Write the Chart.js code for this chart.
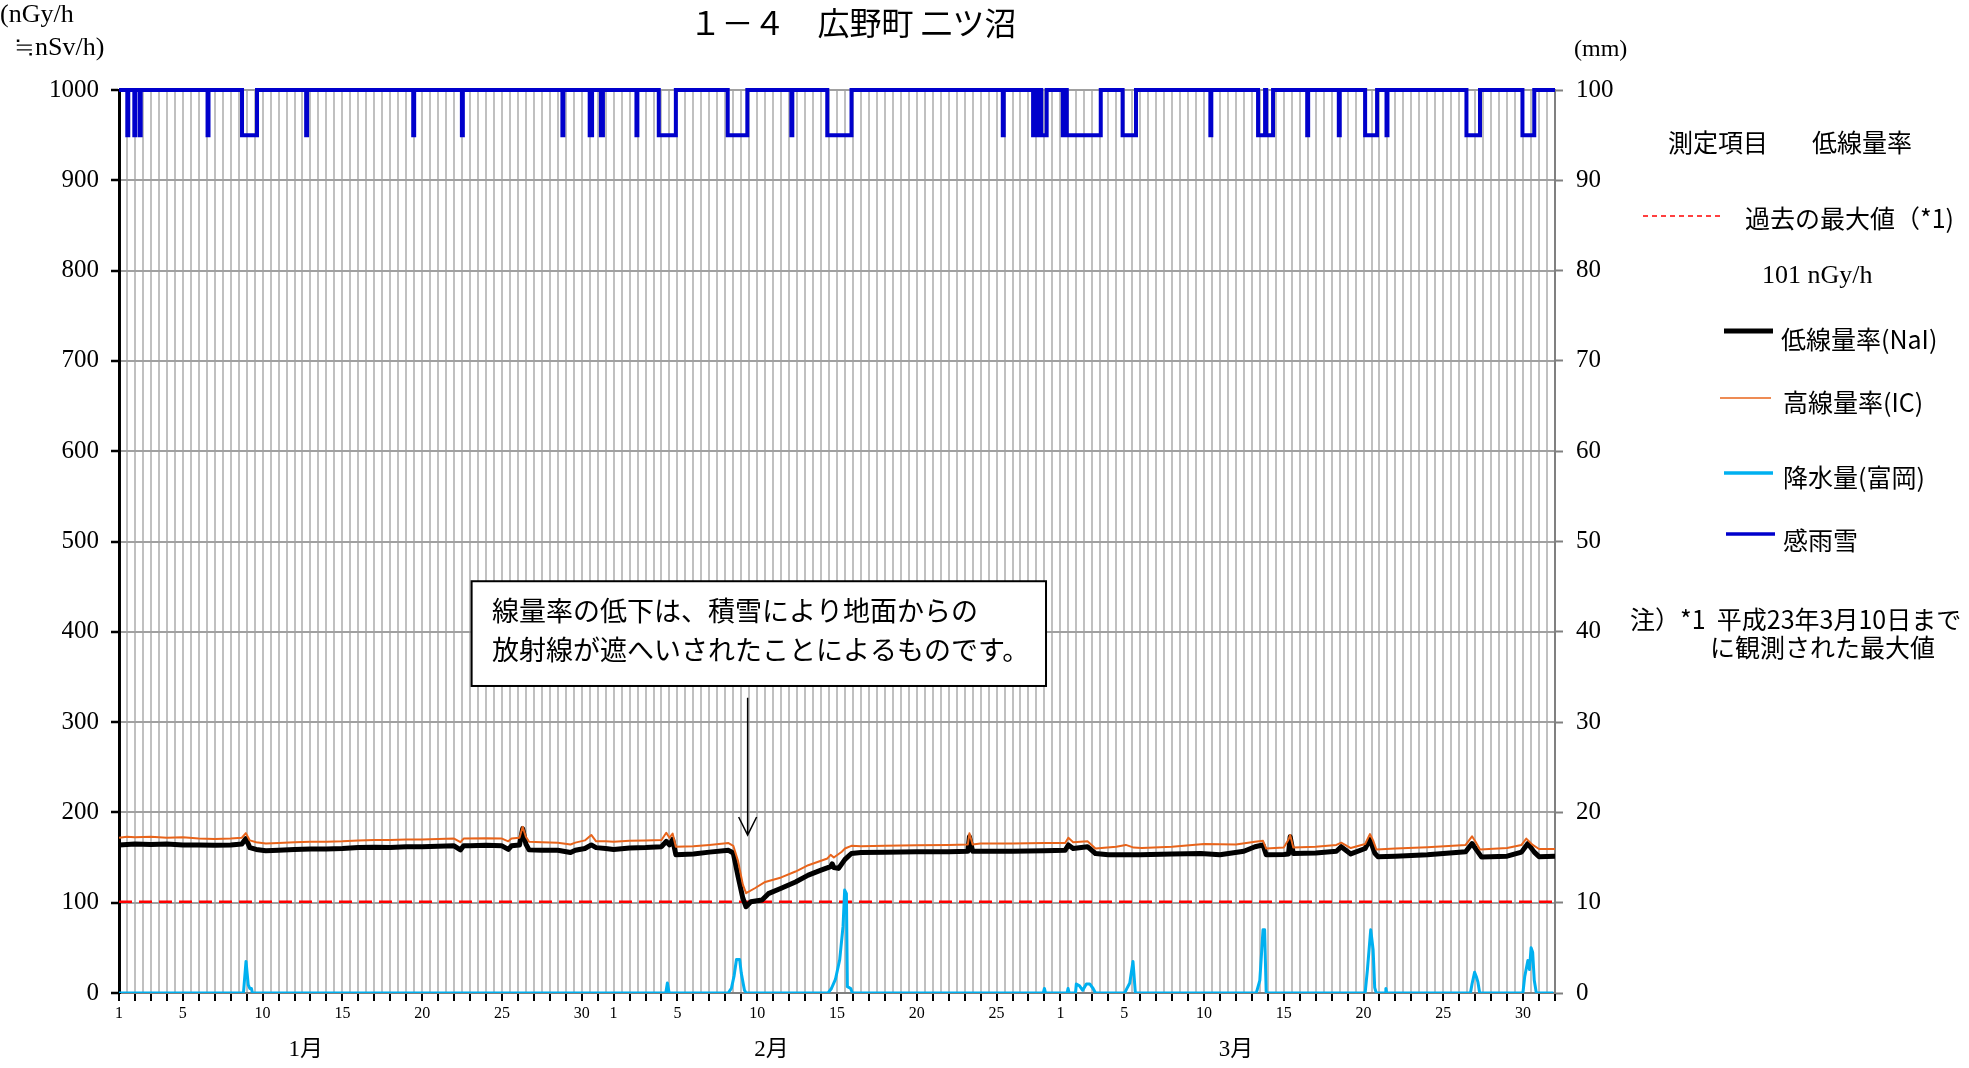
<!DOCTYPE html>
<html lang="ja">
<head>
<meta charset="utf-8">
<title>広野町 二ツ沼</title>
<script src="https://cdn.jsdelivr.net/npm/chart.js@4.4.1/dist/chart.umd.min.js"></script>
<style>
  html, body { margin: 0; padding: 0; background: #fff; }
  #wrap { width: 1969px; height: 1068px; }
</style>
</head>
<body>
<div id="wrap"><canvas id="doseChart" width="1969" height="1068"></canvas></div>
<script>
// x = days since Jan 1 00:00 (90 days, Jan-Mar)

// 低線量率(NaI) nGy/h
const naiDays = [0, 1, 2, 3, 4, 5, 6, 7, 7.7, 7.95, 8.2, 8.6, 9.2, 10, 11, 12, 13, 14, 15, 16, 17, 18, 19, 20, 21, 21.4, 21.6, 22, 23, 24, 24.4, 24.6, 25.1, 25.3, 25.5, 25.7, 26.5, 27.5, 28.3, 28.6, 29.2, 29.6, 29.9, 30.5, 31, 32, 33, 34, 34.3, 34.5, 34.7, 34.9, 36, 37, 38.2, 38.5, 38.8, 39.1, 39.3, 39.6, 40.3, 40.7, 41.5, 42.4, 43.2, 44.0, 44.6, 44.7, 44.8, 45.1, 45.5, 45.9, 46.5, 48, 50, 52, 53.2, 53.3, 53.5, 54, 56, 58, 59.3, 59.5, 59.8, 60.7, 61.2, 62, 64, 66, 67.8, 69, 70.5, 71.2, 71.7, 71.9, 73, 73.3, 73.4, 73.6, 75, 76.3, 76.6, 77.2, 78.1, 78.4, 78.7, 78.9, 80, 82, 84.4, 84.8, 85.1, 85.4, 87, 87.9, 88.3, 88.7, 89.0, 90];
const naiValues = [164, 165, 164.5, 165, 164, 164, 163.5, 164, 165, 171, 161, 159, 157.5, 158, 159, 159.5, 159.5, 160, 161, 161.5, 161, 162, 162, 162.5, 163, 158.5, 163, 163, 163.5, 163, 159, 163, 164, 182, 165, 158.5, 158, 158, 155.5, 158, 160, 164, 161, 160, 159, 160.5, 161, 162, 168, 164, 170, 153, 154, 156, 158, 155, 129, 105, 95.5, 101, 103, 110, 116, 123, 130.5, 136, 140, 143, 139, 138, 148, 154.5, 155.5, 156, 156.5, 156.5, 157, 173, 157, 157, 157, 157.5, 158, 164, 160, 162, 154.5, 153, 153, 154, 154.5, 153, 157, 162, 164, 153, 153.5, 154, 173, 154.5, 155, 157, 162, 154, 160, 170, 155, 151, 151.5, 153, 156.5, 165.5, 158, 150.5, 151.5, 156, 165.5, 156, 151, 151.5];

// 高線量率(IC) nGy/h
const icDays = [0, 0.5, 1, 2, 3, 4, 5, 6, 7, 7.7, 7.95, 8.2, 8.6, 9.2, 10, 11, 12, 13, 14, 15, 16, 17, 18, 19, 20, 21, 21.4, 21.6, 23, 24, 24.4, 24.6, 25.1, 25.3, 25.5, 25.7, 26.5, 27.5, 28.3, 28.6, 29.2, 29.6, 29.9, 30.5, 31, 32, 33, 34, 34.3, 34.5, 34.7, 34.9, 36, 37, 38.2, 38.5, 38.8, 39.1, 39.3, 39.85, 40.5, 41.5, 42.4, 43.2, 44.4, 44.6, 44.8, 45.3, 45.5, 45.9, 46.5, 48, 50, 52, 53.2, 53.3, 53.5, 54, 56, 58, 59.3, 59.5, 59.8, 60.7, 61.2, 62.5, 63.1, 63.6, 64.1, 66, 68, 70, 71.2, 71.7, 71.9, 73, 73.3, 73.4, 73.6, 75, 76.3, 76.6, 77.2, 78.1, 78.4, 78.6, 78.8, 80, 82, 84.4, 84.8, 85.0, 85.3, 87, 87.9, 88.2, 88.6, 89.0, 90];
const icValues = [172, 173, 172.5, 173, 172, 172.5, 171, 170.5, 171, 172, 177, 169, 167, 165.5, 166, 167, 167.5, 167.5, 168, 169, 169.5, 169.5, 170, 170, 170.5, 171, 167, 171, 171.5, 171, 168, 171, 172, 184, 173, 167.5, 167, 166.5, 164.5, 166.5, 169, 175, 168, 168, 167.5, 168.5, 169, 169.5, 177.5, 172, 176.5, 162, 162.5, 164, 166, 163, 146, 120, 110.5, 116, 123, 128, 134.5, 141.5, 149, 153, 150, 156.5, 160, 163, 162.5, 163, 163.5, 164, 164.5, 177, 164.5, 165.5, 165.5, 166, 166, 172, 167, 168, 160, 162, 164, 161, 160.5, 162, 165, 164.5, 167.5, 168.5, 160, 161, 170, 175, 161, 162, 164, 166.5, 160.5, 165, 176, 169, 159, 160, 161.5, 164, 173.5, 168, 159, 160.5, 164, 171, 164, 159.5, 159.5];

// 降水量(富岡) mm
const rainDays = [0, 7.8, 7.96, 8.1, 8.2, 8.3, 8.36, 34.27, 34.37, 34.48, 38.18, 38.38, 38.55, 38.7, 38.9, 39.0, 39.2, 39.3, 44.44, 44.65, 44.9, 45.17, 45.38, 45.48, 45.59, 45.65, 45.86, 45.96, 57.93, 58.0, 58.07, 59.42, 59.48, 59.55, 59.95, 60.0, 60.2, 60.4, 60.63, 60.84, 61.05, 61.2, 63.03, 63.14, 63.35, 63.55, 63.7, 71.28, 71.5, 71.7, 71.8, 71.9, 78.1, 78.24, 78.45, 78.6, 78.7, 78.8, 79.35, 79.4, 79.45, 84.7, 84.8, 84.96, 85.07, 85.17, 85.28, 87.99, 88.1, 88.3, 88.4, 88.5, 88.6, 88.7, 88.83, 89.9];
const rainMm = [0, 0, 3.5, 0.9, 0.5, 0.5, 0, 0, 1.1, 0, 0, 0.5, 1.9, 3.7, 3.7, 2.2, 0.3, 0, 0, 0.5, 1.5, 3.7, 7.4, 11.4, 11.0, 0.7, 0.5, 0, 0, 0.5, 0, 0, 0.5, 0, 0, 1.0, 0.8, 0.3, 1.0, 1.0, 0.5, 0, 0, 0.4, 1.1, 3.5, 0, 0, 1.4, 7.0, 7.0, 0, 0, 2.5, 7.0, 4.8, 0.6, 0, 0, 0.5, 0, 0, 1.0, 2.3, 1.8, 1.2, 0, 0, 1.8, 3.6, 2.6, 5.0, 4.5, 1.4, 0, 0];

// 感雨雪: periods when the sensor reported rain/snow (drawn at 95, otherwise 100)
const sensorStart = [0.52, 0.96, 1.30, 5.55, 7.71, 11.73, 18.44, 21.49, 27.79, 29.5, 30.2, 32.43, 33.83, 38.15, 42.14, 44.39, 55.39, 57.29, 57.55, 57.8, 59.15, 59.4, 62.9, 68.4, 71.39, 71.9, 74.47, 76.45, 78.1, 79.44, 84.45, 87.96];
const sensorEnd = [0.58, 1.02, 1.36, 5.61, 8.65, 11.79, 18.5, 21.55, 27.85, 29.65, 30.33, 32.49, 34.9, 39.38, 42.2, 45.91, 55.45, 57.45, 57.7, 58.14, 59.3, 61.53, 63.74, 68.46, 71.83, 72.33, 74.53, 76.51, 78.85, 79.5, 85.3, 88.7];
const sensorOff = 100;
const sensorOn = 95;

// 過去の最大値
const pastMax = 101;

// x axis labels
const dayTickPos = [0, 4, 9, 14, 19, 24, 29, 31, 35, 40, 45, 50, 55, 59, 63, 68, 73, 78, 83, 88];
const dayTickText = ['1', '5', '10', '15', '20', '25', '30', '1', '5', '10', '15', '20', '25', '1', '5', '10', '15', '20', '25', '30'];
const monthNames = ['1月', '2月', '3月'];
const monthLabelDay = [11.7, 40.9, 70.0];

const SERIF = "'Liberation Serif', 'Noto Sans CJK JP', serif";
const JP = "'Noto Sans CJK JP', sans-serif";

function toPoints(xs, ys) {
  return xs.map((x, i) => ({ x: x, y: ys[i] }));
}

function sensorPoints() {
  const pts = [{ x: 0, y: sensorOff }];
  sensorStart.forEach((s, i) => {
    const e = sensorEnd[i];
    pts.push({ x: s, y: sensorOff }, { x: s, y: sensorOn }, { x: e, y: sensorOn }, { x: e, y: sensorOff });
  });
  pts.push({ x: 90, y: sensorOff });
  return pts;
}

// titles, legend, note box and arrow
const textPlugin = {
  id: 'texts',
  afterDraw(chart) {
    const ctx = chart.ctx;
    const xs = chart.scales.x;
    const ys = chart.scales.y;
    ctx.save();
    ctx.fillStyle = '#000';
    ctx.textBaseline = 'middle';

    // title
    ctx.textAlign = 'center';
    ctx.font = '32px ' + JP;
    ctx.fillText('１－４　広野町 二ツ沼', 853, 23);

    // unit labels
    ctx.textAlign = 'left';
    ctx.font = '26px ' + SERIF;
    ctx.fillText('(nGy/h', 0, 15);
    ctx.fillText('≒nSv/h)', 14, 48);
    ctx.font = '24px ' + SERIF;
    ctx.fillText('(mm)', 1574, 50);

    // month labels
    ctx.textAlign = 'center';
    ctx.font = '23px ' + SERIF;
    monthNames.forEach((m, i) => {
      ctx.fillText(m, xs.getPixelForValue(monthLabelDay[i]), 1050);
    });

    // note box
    const bx1 = xs.getPixelForValue(22.1), bx2 = xs.getPixelForValue(58.1);
    const by1 = ys.getPixelForValue(456), by2 = ys.getPixelForValue(340);
    ctx.fillStyle = '#fff';
    ctx.fillRect(bx1, by1, bx2 - bx1, by2 - by1);
    ctx.strokeStyle = '#000';
    ctx.lineWidth = 2;
    ctx.strokeRect(bx1, by1, bx2 - bx1, by2 - by1);
    ctx.fillStyle = '#000';
    ctx.textAlign = 'left';
    ctx.font = '27px ' + JP;
    ctx.fillText('線量率の低下は、積雪により地面からの', xs.getPixelForValue(23.37), ys.getPixelForValue(423));
    ctx.fillText('放射線が遮へいされたことによるものです。', xs.getPixelForValue(23.37), ys.getPixelForValue(380));

    // arrow
    const ax = xs.getPixelForValue(39.4);
    const ay1 = ys.getPixelForValue(327), ay2 = ys.getPixelForValue(175);
    ctx.lineWidth = 1.5;
    ctx.beginPath();
    ctx.moveTo(ax, ay1);
    ctx.lineTo(ax, ay2);
    ctx.moveTo(ax - 9, ay2 - 18);
    ctx.lineTo(ax, ay2);
    ctx.lineTo(ax + 9, ay2 - 18);
    ctx.stroke();

    // legend
    ctx.font = '25px ' + JP;
    ctx.fillText('測定項目', 1668, 142);
    ctx.fillText('低線量率', 1812, 142);

    function sample(x1, x2, y, color, width, dash) {
      ctx.strokeStyle = color;
      ctx.lineWidth = width;
      ctx.setLineDash(dash || []);
      ctx.beginPath();
      ctx.moveTo(x1, y);
      ctx.lineTo(x2, y);
      ctx.stroke();
      ctx.setLineDash([]);
    }
    sample(1643, 1723, 216, '#ff0000', 1.5, [5, 4]);
    ctx.fillText('過去の最大値（*1)', 1745, 218);
    ctx.font = '26px ' + SERIF;
    ctx.fillText('101 nGy/h', 1762, 276);
    ctx.font = '25px ' + JP;
    sample(1724, 1773, 331, '#000', 5);
    ctx.fillText('低線量率(NaI)', 1781, 339);
    sample(1720, 1771, 398, '#e8641b', 1.5);
    ctx.fillText('高線量率(IC)', 1783, 402);
    sample(1724, 1773, 473, '#00b0f0', 3.5);
    ctx.fillText('降水量(富岡)', 1783, 477);
    sample(1726, 1775, 534, '#0000cc', 3.5);
    ctx.fillText('感雨雪', 1783, 540);

    ctx.fillText('注）*1  平成23年3月10日まで', 1630, 619);
    ctx.fillText('に観測された最大値', 1710, 647);
    ctx.restore();
  }
};

const chart = new Chart(document.getElementById('doseChart').getContext('2d'), {
  type: 'line',
  data: {
    datasets: [
      {
        label: '感雨雪',
        data: sensorPoints(),
        yAxisID: 'y2',
        borderColor: '#0000cc',
        borderWidth: 4,
        clip: false,
      },
      {
        label: '降水量(富岡)',
        data: toPoints(rainDays, rainMm),
        yAxisID: 'y2',
        borderColor: '#00b0f0',
        borderWidth: 3,
        borderJoinStyle: 'round',
      },
      {
        label: '高線量率(IC)',
        data: toPoints(icDays, icValues),
        yAxisID: 'y',
        borderColor: '#e8641b',
        borderWidth: 2,
        borderJoinStyle: 'round',
      },
      {
        label: '低線量率(NaI)',
        data: toPoints(naiDays, naiValues),
        yAxisID: 'y',
        borderColor: '#000',
        borderWidth: 5,
        borderJoinStyle: 'round',
        borderCapStyle: 'round',
      },
      {
        label: '過去の最大値',
        data: [{ x: 0, y: pastMax }, { x: 90, y: pastMax }],
        yAxisID: 'y',
        borderColor: '#ff0000',
        borderWidth: 2.5,
        borderDash: [13, 7],
      },
    ],
  },
  options: {
    responsive: false,
    animation: false,
    layout: { padding: { top: 90, left: 0, right: 0, bottom: 0 } },
    elements: { point: { radius: 0 }, line: { tension: 0, fill: false } },
    plugins: { legend: { display: false }, tooltip: { enabled: false }, title: { display: false } },
    scales: {
      x: {
        type: 'linear',
        min: 0,
        max: 90,
        afterFit: (s) => { s.height = 75; },
        ticks: {
          stepSize: 0.5,
          autoSkip: false,
          maxRotation: 0,
          padding: 3,
          color: '#000',
          font: { family: SERIF, size: 16 },
          callback: (v) => {
            const k = dayTickPos.indexOf(v);
            return k >= 0 ? dayTickText[k] : '';
          },
        },
        grid: {
          color: '#c0c0c0',
          lineWidth: 2,
          tickLength: 8,
          tickWidth: 2,
          tickColor: (c) => (Number.isInteger(c.tick.value) ? '#000' : 'rgba(0,0,0,0)'),
        },
        border: { color: '#808080', width: 2 },
      },
      y: {
        position: 'left',
        min: 0,
        max: 1000,
        afterFit: (s) => { s.width = 119; },
        ticks: { stepSize: 100, padding: 12, color: '#000', font: { family: SERIF, size: 25 }, callback: (v) => String(v) },
        grid: { color: '#a0a0a0', lineWidth: 2, tickLength: 8, tickWidth: 2.5, tickColor: '#000' },
        border: { color: '#000', width: 3 },
      },
      y2: {
        position: 'right',
        min: 0,
        max: 100,
        afterFit: (s) => { s.width = 414; },
        ticks: { stepSize: 10, padding: 13, color: '#000', font: { family: SERIF, size: 25 }, callback: (v) => String(v) },
        grid: { drawOnChartArea: false, tickLength: 8, tickWidth: 2, tickColor: '#808080' },
        border: { color: '#808080', width: 2 },
      },
    },
  },
  plugins: [textPlugin],
});
</script>
</body>
</html>
